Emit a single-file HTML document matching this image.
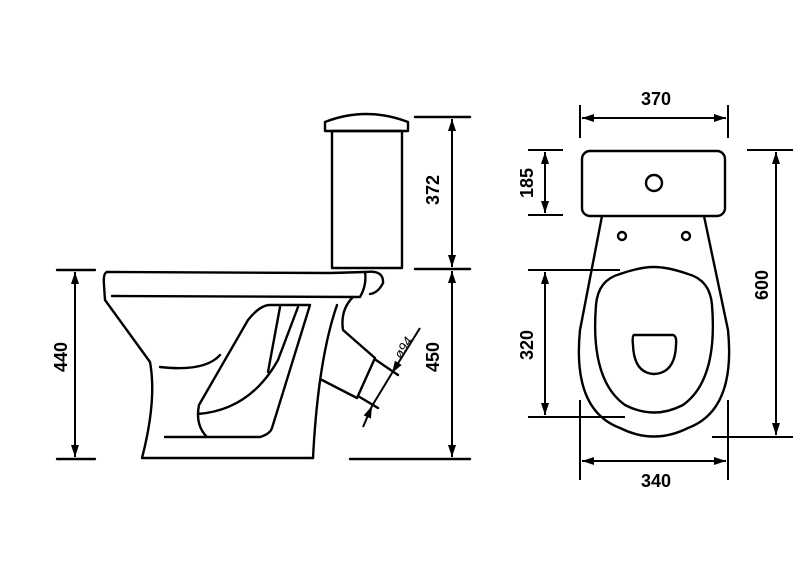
<!DOCTYPE html>
<html><head><meta charset="utf-8"><style>
html,body{margin:0;padding:0;background:#fff;}
svg{display:block}
text{font-family:"Liberation Sans",Arial,sans-serif;font-weight:bold;font-size:18px;fill:#000}
</style></head><body>
<svg width="800" height="565" viewBox="0 0 800 565" xmlns="http://www.w3.org/2000/svg">
<defs>
<marker id="a" viewBox="0 0 12 8" refX="12" refY="4" markerWidth="12" markerHeight="8" markerUnits="userSpaceOnUse" orient="auto-start-reverse"><path d="M0,0 L12,4 L0,8 Z" fill="#000"/></marker>
</defs>
<g fill="none" stroke="#000" stroke-width="2.4" stroke-linejoin="round" stroke-linecap="round">
<path d="M325,131 L325,122 Q366,106 408,122 L408,131 Z"/>
<rect x="332" y="131" width="70" height="137"/>
<path d="M107,272 L330,273 L365,272 Q367,285 360,297 L112,296"/>
<path d="M366,272 Q384,270 383,283 Q378,293 370,294"/>
<path d="M107,272 Q103,273 104,285 L105,300 L150,362 Q157,400 142,458 L313,458"/>
<path d="M160,367 Q205,372 220,355"/>
<path d="M353,297 Q340,310 343,330 L375,358 L357,398 L322,380"/>
<path d="M337,305 Q318,360 313,458"/>
<path d="M165,437 L260,437 Q270,434 272,428 L310,305 L270,305 Q260,305 248,320 L199,405 Q195,425 207,437"/>
<path d="M198,414 Q250,410 278,360 L298,307"/>
<path d="M280,307 L268,372"/>
<path d="M57,270 H95 M57,459 H95"/>
<path d="M415,117 H470 M415,269 H470 M350,459 H470"/>
<path d="M376,360 L398,375 M358,396 L378,408"/>
</g>
<g stroke="#000" stroke-width="2" fill="none">
<line x1="75" y1="272" x2="75" y2="457" marker-start="url(#a)" marker-end="url(#a)"/>
<line x1="452" y1="119" x2="452" y2="267" marker-start="url(#a)" marker-end="url(#a)"/>
<line x1="452" y1="271" x2="452" y2="457" marker-start="url(#a)" marker-end="url(#a)"/>
<line x1="420" y1="328" x2="392" y2="373" marker-end="url(#a)"/>
<line x1="363" y1="427" x2="372" y2="406" marker-end="url(#a)"/>
<line x1="392" y1="373" x2="372" y2="406"/>
</g>
<text transform="translate(67,357) rotate(-90)" text-anchor="middle">440</text>
<text transform="translate(439,190) rotate(-90)" text-anchor="middle">372</text>
<text transform="translate(439,357) rotate(-90)" text-anchor="middle">450</text>
<text transform="translate(407,350) rotate(-58)" text-anchor="middle" style="font-size:13px;font-weight:normal;font-style:italic">ø94</text>

<g fill="none" stroke="#000" stroke-width="2.4" stroke-linejoin="round">
<rect x="582" y="151" width="143" height="65" rx="8"/>
<circle cx="654" cy="183" r="8"/>
<circle cx="622" cy="236" r="4"/>
<circle cx="686" cy="236" r="4"/>
<path d="M602,216 L580,330 Q572,410 620,428 Q654,445 688,428 Q736,410 728,330 L704,216"/>
<path d="M654,267 Q640,267 620,274 Q598,280 596,305 Q590,380 625,405 Q654,420 683,405 Q718,380 712,305 Q710,280 688,274 Q668,267 654,267 Z"/>
<path d="M634,335 L673,335 Q677,336 676,345 Q675,373 654,374 Q634,373 633,345 Q632,336 634,335 Z"/>
</g>
<g stroke="#000" stroke-width="2" fill="none">
<path d="M580,105 V138 M728,105 V138"/>
<path d="M528,150 H563 M528,215 H563"/>
<path d="M528,270 H620 M528,417 H625"/>
<path d="M747,150 H793 M712,437 H793"/>
<path d="M580,400 V480 M728,400 V480"/>
<line x1="582" y1="118" x2="726" y2="118" marker-start="url(#a)" marker-end="url(#a)"/>
<line x1="545" y1="152" x2="545" y2="213" marker-start="url(#a)" marker-end="url(#a)"/>
<line x1="545" y1="272" x2="545" y2="415" marker-start="url(#a)" marker-end="url(#a)"/>
<line x1="776" y1="152" x2="776" y2="435" marker-start="url(#a)" marker-end="url(#a)"/>
<line x1="582" y1="461" x2="726" y2="461" marker-start="url(#a)" marker-end="url(#a)"/>
</g>
<text x="656" y="105" text-anchor="middle">370</text>
<text x="656" y="487" text-anchor="middle">340</text>
<text transform="translate(533,183) rotate(-90)" text-anchor="middle">185</text>
<text transform="translate(533,345) rotate(-90)" text-anchor="middle">320</text>
<text transform="translate(768,285) rotate(-90)" text-anchor="middle">600</text>
</svg>
</body></html>
